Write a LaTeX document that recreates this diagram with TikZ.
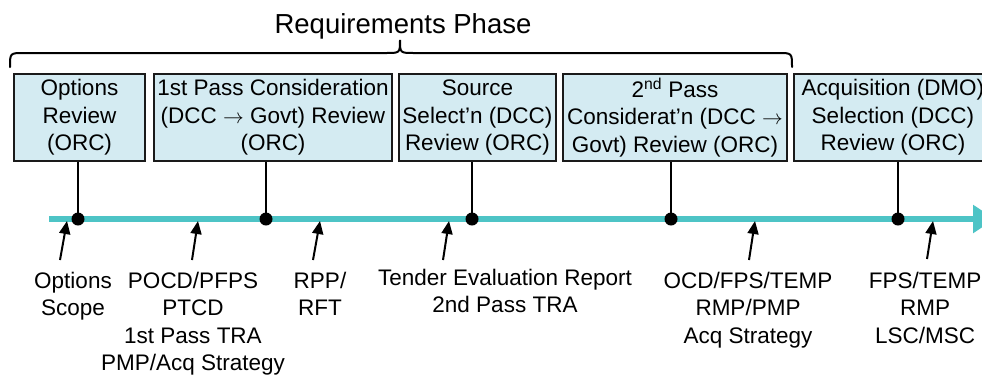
\documentclass[tikz,border=0pt]{standalone}
\usepackage{fontspec}
\setmainfont{Liberation Sans}
\usetikzlibrary{arrows.meta}
\definecolor{boxfill}{HTML}{D4EBF2}
\definecolor{tealline}{HTML}{4DC4C6}
\definecolor{boxline}{HTML}{1A1A1A}
\begin{document}
\begin{tikzpicture}[x=1pt,y=-1pt,
  review/.style={draw=boxline, line width=2pt, fill=boxfill, rectangle, minimum height=87pt, inner sep=0pt, align=center, font=\fontsize{22.5}{27.5}\selectfont},
  doc/.style={align=center, anchor=base, inner sep=0pt, font=\fontsize{22.5}{27.5}\selectfont},
  milestone/.style={circle, fill=black, inner sep=0pt, minimum size=13pt},
  tick/.style={line width=2pt, black},
  pointer/.style={line width=2pt, black, -{Triangle[length=13pt,width=11pt]}},
  timeline/.style={line width=6pt, tealline, -{Triangle[length=22pt,width=27pt]}},
  phasebrace/.style={line width=2pt, black, line cap=round}]
\clip (0,0) rectangle (982,376);

% phase title and brace
\node[anchor=base, inner sep=0pt, font=\fontsize{27.5}{33}\selectfont] (title) at (403,33) {Requirements Phase};
\draw[phasebrace] (10,67) .. controls (10,53) .. (24,53) -- (386,53) .. controls (400,53) .. (400,40)
  .. controls (400,53) .. (414,53) -- (778,53) .. controls (792,53) .. (792,67);

% review boxes
\node[review, minimum width=131pt] (b1) at (79.5,117.5) {Options\\Review\\(ORC)};
\node[review, minimum width=238pt] (b2) at (273,117.5) {1st Pass Consideration\\(DCC $\rightarrow$ Govt) Review\\(ORC)};
\node[review, minimum width=157pt] (b3) at (477.5,117.5) {Source\\Select’n (DCC)\\Review (ORC)};
\node[review, minimum width=224pt] (b4) at (675,117.5) {2\textsuperscript{nd} Pass\\Considerat’n (DCC $\rightarrow$\\Govt) Review (ORC)};
\node[review, minimum width=198pt] (b5) at (893,117.5) {Acquisition (DMO)\\Selection (DCC)\\Review (ORC)};

% timeline
\coordinate (tl0) at (49,219);
\coordinate (tl1) at (995,219);
\draw[timeline] (tl0) -- (tl1);

% milestones
\node[milestone] (m1) at (78,219) {};
\node[milestone] (m2) at (266,219) {};
\node[milestone] (m3) at (472,219) {};
\node[milestone] (m4) at (671,219) {};
\node[milestone] (m5) at (898,219) {};
\foreach \i in {1,...,5} {
  \draw[tick] (m\i.center) -- (m\i |- b\i.south);
}

% documents (base anchor = baseline of last line)
\node[doc] (l1) at (73,315.5) {Options\\Scope};
\node[doc] (l2) at (193,370.5) {POCD/PFPS\\PTCD\\1st Pass TRA\\PMP/Acq Strategy};
\node[doc] (l3) at (320,315.5) {RPP/\\RFT};
\node[doc] (l4) at (505,312.5) {Tender Evaluation Report\\2nd Pass TRA};
\node[doc] (l5) at (748,343) {OCD/FPS/TEMP\\RMP/PMP\\Acq Strategy};
\node[doc] (l6) at (925,343) {FPS/TEMP\\RMP\\LSC/MSC};

% pointers
\coordinate (t1) at (60,260);  \coordinate (p1) at (67,221);
\coordinate (t2) at (192,260); \coordinate (p2) at (198,221);
\coordinate (t3) at (313,260); \coordinate (p3) at (320,221);
\coordinate (t4) at (443,260); \coordinate (p4) at (449,221);
\coordinate (t5) at (749,260); \coordinate (p5) at (755,221);
\coordinate (t6) at (927,259); \coordinate (p6) at (933,221);
\foreach \i in {1,...,6} {
  \draw[pointer] (t\i) -- (p\i);
}
\end{tikzpicture}
\end{document}
